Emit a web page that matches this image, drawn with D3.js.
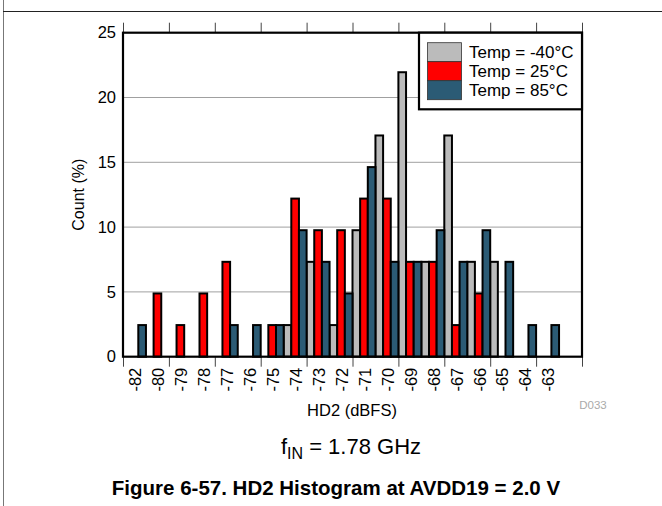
<!DOCTYPE html>
<html><head><meta charset="utf-8">
<script src="https://cdn.jsdelivr.net/npm/d3@7"></script>
<style>
body{margin:0;background:#fff;}
text{font-family:"Liberation Sans",Arial,sans-serif;}
</style></head>
<body><svg id="chart" width="662" height="506"></svg>
<script>
const categories = ["-82","-80","-79","-78","-77","-76","-75","-74","-73","-72","-71","-70","-69","-68","-67","-66","-65","-64","-63",""];
const seriesNames = ["Temp = -40°C","Temp = 25°C","Temp = 85°C"];
const seriesColors = ["#bbbbbb","#ff0000","#2b5b75"];
const tempM40 = [0,0,0,0,0,0,0,2.44,7.32,2.44,9.76,17.07,21.95,7.32,17.07,7.32,7.32,0,0,0];
const temp25  = [0,4.88,2.44,4.88,7.32,0,2.44,12.2,9.76,9.76,12.2,12.2,7.32,7.32,2.44,4.88,0,0,0,0];
const temp85  = [2.44,0,0,0,2.44,2.44,2.44,9.76,7.32,4.88,14.63,7.32,7.32,9.76,7.32,9.76,7.32,2.44,2.44,0];
const yTicks = [0,5,10,15,20,25];

const svg = d3.select("#chart");
const L=123, R=582, T=32.7, B=356.7;
const FF = "'Liberation Sans', Arial, sans-serif";

// outer page lines
svg.append("line").attr("x1",3.5).attr("x2",3.5).attr("y1",0).attr("y2",506).attr("stroke","#777").attr("stroke-width",1);
svg.append("line").attr("x1",3).attr("x2",662).attr("y1",11.5).attr("y2",11.5).attr("stroke","#222").attr("stroke-width",1);

const idx = d3.range(categories.length);
const x = d3.scaleBand().domain(idx).range([L,R]).padding(0);
const xs = d3.scaleBand().domain(d3.range(3)).range([0,x.bandwidth()]).padding(0);
const y = d3.scaleLinear().domain([0,25]).range([B,T]);
const xt = d3.scaleLinear().domain([0,categories.length]).range([L,R]);

// gridlines
svg.append("g").selectAll("line").data(yTicks.filter(v=>v>0&&v<25)).join("line")
  .attr("x1",L).attr("x2",R).attr("y1",d=>y(d)).attr("y2",d=>y(d))
  .attr("stroke","#a0a0a0").attr("stroke-width",1);

// y labels
svg.append("g").attr("transform",`translate(${L-7},0)`)
  .call(d3.axisLeft(y).tickValues(yTicks).tickSize(0).tickPadding(0))
  .call(g=>g.select(".domain").remove())
  .call(g=>g.selectAll("text").attr("font-size","16.5px").attr("fill","#000").attr("font-family",FF));

// top & bottom ticks
const tv = d3.range(0,categories.length+1,2);
svg.append("g").attr("transform",`translate(0,${T})`)
  .call(d3.axisTop(xt).tickValues(tv).tickSize(10).tickFormat(""))
  .call(g=>g.select(".domain").remove())
  .call(g=>g.selectAll("line").attr("stroke","#444").attr("stroke-width",1));
svg.append("g").attr("transform",`translate(0,${B})`)
  .call(d3.axisBottom(xt).tickValues(tv).tickSize(10).tickFormat(""))
  .call(g=>g.select(".domain").remove())
  .call(g=>g.selectAll("line").attr("stroke","#444").attr("stroke-width",1));

// x labels
svg.append("g").attr("transform",`translate(0,${B})`)
  .call(d3.axisBottom(x).tickSize(0).tickFormat(i=>categories[i]))
  .call(g=>g.select(".domain").remove())
  .call(g=>g.selectAll("text").attr("font-size","16.5px").attr("fill","#000")
     .attr("font-family",FF)
     .attr("text-anchor","end").attr("dy","0.35em")
     .attr("transform","translate(1,11) rotate(-90)").attr("x",0).attr("y",0));

// bars
const series = [tempM40,temp25,temp85];
series.forEach((vals,si)=>{
  svg.append("g").selectAll("rect").data(idx.filter(i=>vals[i]>0)).join("rect")
    .attr("x",i=>x(i)+xs(si)).attr("width",xs.bandwidth())
    .attr("y",i=>y(vals[i])).attr("height",i=>B-y(vals[i]))
    .attr("fill",seriesColors[si]).attr("stroke","#000").attr("stroke-width",2);
});

// frame
svg.append("rect").attr("x",L).attr("y",T).attr("width",R-L).attr("height",B-T)
  .attr("fill","none").attr("stroke","#000").attr("stroke-width",2.2);

// legend
const lg = svg.append("g");
lg.append("rect").attr("x",419).attr("y",T).attr("width",R-419).attr("height",109.3-T)
  .attr("fill","#fff").attr("stroke","#000").attr("stroke-width",2.2);
seriesNames.forEach((n,i)=>{
  lg.append("rect").attr("x",427.5).attr("y",42.7+i*19).attr("width",34).attr("height",19)
    .attr("fill",seriesColors[i]).attr("stroke","#333").attr("stroke-width",0.8);
  lg.append("text").attr("x",469).attr("y",58+i*19).attr("font-size","17px").text(n);
});

// axis titles
svg.append("text").attr("transform","translate(84,194.7) rotate(-90)").attr("text-anchor","middle")
  .attr("font-size","16px").text("Count (%)");
svg.append("text").attr("x",352).attr("y",416).attr("text-anchor","middle").attr("font-size","16.5px").text("HD2 (dBFS)");
svg.append("text").attr("x",593).attr("y",409).attr("text-anchor","middle").attr("font-size","11.5px").attr("fill","#aaa").text("D033");

const f = svg.append("text").attr("x",351).attr("y",454).attr("text-anchor","middle").attr("font-size","22px");
f.append("tspan").text("f");
f.append("tspan").attr("font-size","16px").attr("dy",5).text("IN");
f.append("tspan").attr("dy",-5).text(" = 1.78 GHz");

svg.append("text").attr("x",336).attr("y",495).attr("text-anchor","middle").attr("font-size","20.5px").attr("font-weight","bold")
  .text("Figure 6-57. HD2 Histogram at AVDD19 = 2.0 V");
</script></body></html>
